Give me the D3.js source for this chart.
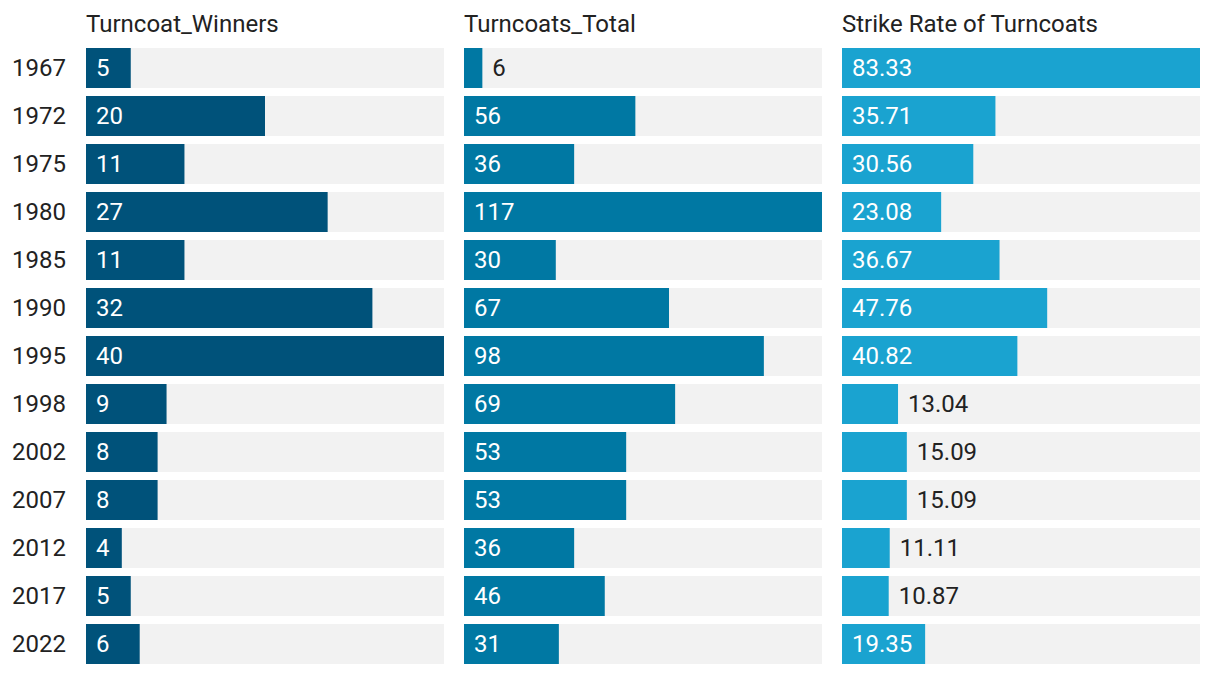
<!DOCTYPE html>
<html><head><meta charset="utf-8">
<script src="https://cdn.jsdelivr.net/npm/d3@7"></script>
<style>body{margin:0;background:#fff;}svg{display:block;font-family:Roboto,"Noto Sans",sans-serif;}</style>
</head><body><svg id="c" width="1220" height="674"></svg>
<script>
const years = ["1967","1972","1975","1980","1985","1990","1995","1998","2002","2007","2012","2017","2022"];
const winners = [5,20,11,27,11,32,40,9,8,8,4,5,6];
const totals = [6,56,36,117,30,67,98,69,53,53,36,46,31];
const strikeRate = [83.33,35.71,30.56,23.08,36.67,47.76,40.82,13.04,15.09,15.09,11.11,10.87,19.35];
const titles = ["Turncoat_Winners","Turncoats_Total","Strike Rate of Turncoats"];
const colors = ["#00527a","#0078a3","#1aa3d0"];

const svg = d3.select("#c");
const y = d3.scaleBand().domain(years).range([44, 668]).paddingInner(1/6).paddingOuter(1/12);
const panels = [
  {title: titles[0], values: winners, x0: 86, fmt: d => String(d)},
  {title: titles[1], values: totals, x0: 464, fmt: d => String(d)},
  {title: titles[2], values: strikeRate, x0: 842, fmt: d => d.toFixed(2)}
];
const pw = 358;
const fs = 24;

svg.append("g").selectAll("text").data(years).join("text")
  .attr("x", 12).attr("y", d => y(d) + y.bandwidth()/2).attr("dy", "0.33em")
  .attr("font-size", fs).attr("fill", "#222").text(d => d);

panels.forEach((p, pi) => {
  const x = d3.scaleLinear().domain([0, d3.max(p.values)]).range([p.x0, p.x0 + pw]);
  const g = svg.append("g");
  g.append("text").attr("x", p.x0).attr("y", 32).attr("font-size", fs).attr("fill", "#222").text(p.title);
  const rows = g.selectAll("g.row").data(years.map((yr, i) => ({yr, v: p.values[i]}))).join("g");
  rows.append("rect").attr("x", p.x0).attr("y", d => y(d.yr)).attr("width", pw).attr("height", y.bandwidth()).attr("fill", "#f2f2f2");
  rows.append("rect").attr("x", p.x0).attr("y", d => y(d.yr)).attr("width", d => x(d.v) - p.x0).attr("height", y.bandwidth()).attr("fill", colors[pi]);
  rows.append("text").attr("y", d => y(d.yr) + y.bandwidth()/2).attr("dy", "0.33em")
    .attr("font-size", fs).text(d => p.fmt(d.v))
    .each(function(d) {
      const w = this.getComputedTextLength();
      const bw = x(d.v) - p.x0;
      const t = d3.select(this);
      if (w + 20 <= bw) t.attr("x", p.x0 + 10).attr("fill", "#fff");
      else t.attr("x", x(d.v) + 10).attr("fill", "#222");
    });
});
</script></body></html>
